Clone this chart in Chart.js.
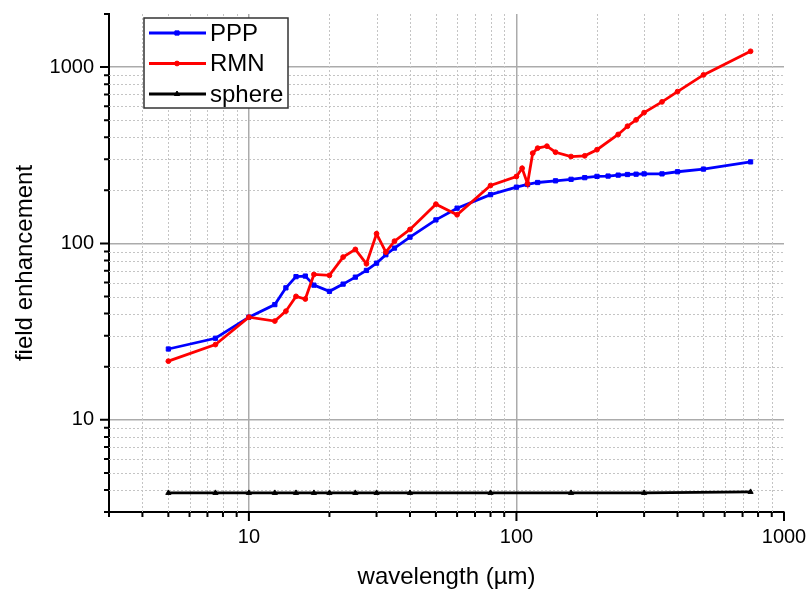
<!DOCTYPE html>
<html>
<head>
<meta charset="utf-8">
<script src="https://cdn.jsdelivr.net/npm/chart.js@4.4.1/dist/chart.umd.min.js"></script>
<style>
html, body { margin: 0; padding: 0; background: #fff; }
#wrap { position: relative; width: 811px; height: 592px; }
</style>
</head>
<body>
<div id="wrap"><canvas id="chLine"></canvas></div>
<script>
"use strict";

// wavelength (µm) and field enhancement
const pppX = [5, 7.5, 10, 12.5, 13.75, 15, 16.25, 17.5, 20, 22.5, 25, 27.5, 30, 32.5, 35, 40, 50, 60, 80, 100,
              110, 120, 140, 160, 180, 200, 220, 240, 260, 280, 300, 350, 400, 500, 750];
const pppY = [25.2, 29, 38.2, 45, 56, 64.8, 65.3, 58, 53.5, 58.8, 64.4, 70.3, 77.3, 86.3, 94.1, 108.6, 136, 158.5, 189, 208.5,
              216, 221.6, 226.5, 231, 236, 240, 241, 244, 246, 247, 248, 248, 255, 264, 290];

const rmnX = [5, 7.5, 10, 12.5, 13.75, 15, 16.25, 17.5, 20, 22.5, 25, 27.5, 30, 32.5, 35, 40, 50, 60, 80, 100,
              105, 110, 115, 120, 130, 140, 160, 180, 200, 240, 260, 280, 300, 350, 400, 500, 750];
const rmnY = [21.5, 26.7, 38.2, 36.3, 41.3, 50.1, 48.4, 66.7, 65.9, 83.7, 92.5, 76.7, 113.5, 89.3, 103, 120, 167, 145.4, 213, 239.7,
              267, 218, 325, 347, 356, 329, 311, 314, 340, 415, 462, 502, 552, 635, 726, 903, 1229];

const sphereX = [5, 7.5, 10, 12.5, 15, 17.5, 20, 25, 30, 40, 80, 160, 300, 750];
const sphereY = [3.85, 3.85, 3.85, 3.85, 3.85, 3.85, 3.85, 3.85, 3.85, 3.85, 3.85, 3.85, 3.85, 3.9];

// axis ticks
const xTicks = [3, 4, 5, 6, 7, 8, 9, 10, 20, 30, 40, 50, 60, 70, 80, 90, 100, 200, 300, 400, 500, 600, 700, 800, 900, 1000];
const yTicks = [3, 4, 5, 6, 7, 8, 9, 10, 20, 30, 40, 50, 60, 70, 80, 90, 100, 200, 300, 400, 500, 600, 700, 800, 900, 1000, 2000];
const xMajor = [10, 100, 1000];
const yMajor = [10, 100, 1000];
const xLabels = ['10', '100', '1000'];
const yLabels = ['10', '100', '1000'];

const FONT = "'Liberation Sans', Arial, sans-serif";

function toPoints(xs, ys) {
	return xs.map((x, i) => ({x: x, y: ys[i]}));
}

function labelFor(majors, labels) {
	return function(value) {
		const i = majors.indexOf(value);
		return i >= 0 ? labels[i] : '';
	};
}

// dotted minor grid lines
const minorGrid = {
	id: 'minorGrid',
	beforeDatasetsDraw(chart) {
		const ctx = chart.ctx, a = chart.chartArea;
		const sx = chart.scales.x, sy = chart.scales.y;
		ctx.save();
		ctx.strokeStyle = '#c4c4c4';
		ctx.lineWidth = 1;
		ctx.setLineDash([2, 2]);
		ctx.beginPath();
		xTicks.forEach(v => {
			if (xMajor.includes(v) || v === xTicks[0]) return;
			const px = Math.round(sx.getPixelForValue(v)) + 0.5;
			ctx.moveTo(px, a.top);
			ctx.lineTo(px, a.bottom);
		});
		yTicks.forEach(v => {
			if (yMajor.includes(v) || v === yTicks[0] || v === yTicks[yTicks.length - 1]) return;
			const py = Math.round(sy.getPixelForValue(v)) + 0.5;
			ctx.moveTo(a.left, py);
			ctx.lineTo(a.right, py);
		});
		ctx.stroke();
		ctx.restore();
	}
};

// outward tick marks, long for decades
const tickMarks = {
	id: 'tickMarks',
	afterDraw(chart) {
		const ctx = chart.ctx, a = chart.chartArea;
		const sx = chart.scales.x, sy = chart.scales.y;
		ctx.save();
		ctx.strokeStyle = '#000';
		ctx.lineWidth = 2;
		ctx.beginPath();
		xTicks.forEach(v => {
			const px = sx.getPixelForValue(v);
			const len = xMajor.includes(v) ? 9 : 5;
			ctx.moveTo(px, a.bottom);
			ctx.lineTo(px, a.bottom + len);
		});
		yTicks.forEach(v => {
			const py = sy.getPixelForValue(v);
			const len = yMajor.includes(v) ? 9 : 5;
			ctx.moveTo(a.left, py);
			ctx.lineTo(a.left - len, py);
		});
		ctx.stroke();
		ctx.restore();
	}
};

// boxed legend inside the plot
const boxLegend = {
	id: 'boxLegend',
	afterDraw(chart) {
		const ctx = chart.ctx;
		const bx = 144, by = 18, bw = 144, bh = 90;
		ctx.save();
		ctx.fillStyle = '#fff';
		ctx.fillRect(bx, by, bw, bh);
		ctx.strokeStyle = '#333';
		ctx.lineWidth = 1.5;
		ctx.strokeRect(bx, by, bw, bh);
		chart.data.datasets.forEach((ds, i) => {
			const y = by + 15 + i * 30.5;
			ctx.strokeStyle = ds.borderColor;
			ctx.lineWidth = ds.borderWidth;
			ctx.beginPath();
			ctx.moveTo(bx + 5, y);
			ctx.lineTo(bx + 62, y);
			ctx.stroke();
			ctx.fillStyle = ds.borderColor;
			ctx.lineWidth = 1;
			Chart.helpers.drawPoint(ctx, {pointStyle: ds.pointStyle, radius: ds.pointRadius, borderWidth: 1, rotation: 0}, bx + 33, y);
			ctx.fillStyle = '#000';
			ctx.font = '24px ' + FONT;
			ctx.textBaseline = 'middle';
			ctx.textAlign = 'left';
			ctx.fillText(ds.label, bx + 66, y + 1);
		});
		ctx.restore();
	}
};

function drawChart() {
	const chData = {
		datasets: [
			{
				label: 'PPP',
				data: toPoints(pppX, pppY),
				borderColor: '#0000ff',
				backgroundColor: '#0000ff',
				borderWidth: 2.8,
				pointStyle: 'rect',
				pointRadius: 3,
				pointBorderWidth: 1,
				order: 1
			},
			{
				label: 'RMN',
				data: toPoints(rmnX, rmnY),
				borderColor: '#ff0000',
				backgroundColor: '#ff0000',
				borderWidth: 2.8,
				pointStyle: 'circle',
				pointRadius: 2.4,
				pointBorderWidth: 1,
				order: 0
			},
			{
				label: 'sphere',
				data: toPoints(sphereX, sphereY),
				borderColor: '#000000',
				backgroundColor: '#000000',
				borderWidth: 2.8,
				pointStyle: 'triangle',
				pointRadius: 3,
				pointBorderWidth: 1,
				order: 2
			}
		]
	};

	const chOptions = {
		responsive: true,
		maintainAspectRatio: false,
		animation: false,
		layout: {padding: {left: 0, top: 14, right: 27, bottom: 0}},
		plugins: {legend: {display: false}, tooltip: {enabled: false}},
		elements: {line: {tension: 0}},
		scales: {
			x: {
				type: 'logarithmic',
				min: 3,
				max: 1000,
				afterBuildTicks: s => { s.ticks = xTicks.map(v => ({value: v})); },
				afterFit: s => { s.height = 80; s.paddingLeft = 0; s.paddingRight = 0; },
				grid: {
					drawTicks: false,
					lineWidth: 1.5,
					color: c => (c.tick && xMajor.includes(c.tick.value) && c.tick.value !== 1000) ? '#ababab' : 'rgba(0,0,0,0)'
				},
				border: {display: true, color: '#000', width: 2},
				ticks: {
					autoSkip: false, maxRotation: 0, padding: 13, color: '#000',
					font: {family: FONT, size: 20},
					callback: labelFor(xMajor, xLabels)
				},
				title: {
					display: true, text: 'wavelength (µm)', color: '#000',
					font: {family: FONT, size: 24}, padding: {top: 0, bottom: 0}
				}
			},
			y: {
				type: 'logarithmic',
				min: 3,
				max: 2000,
				afterBuildTicks: s => { s.ticks = yTicks.map(v => ({value: v})); },
				afterFit: s => { s.width = 109; s.paddingTop = 0; s.paddingBottom = 0; },
				grid: {
					drawTicks: false,
					lineWidth: 1.5,
					color: c => (c.tick && yMajor.includes(c.tick.value)) ? '#ababab' : 'rgba(0,0,0,0)'
				},
				border: {display: true, color: '#000', width: 2},
				ticks: {
					autoSkip: false, padding: 15, color: '#000',
					font: {family: FONT, size: 20},
					callback: labelFor(yMajor, yLabels)
				},
				title: {
					display: true, text: 'field enhancement', color: '#000',
					font: {family: FONT, size: 24}, padding: {top: 11, bottom: 0}
				}
			}
		}
	};

	new Chart(document.getElementById('chLine'), {
		type: 'line',
		data: chData,
		options: chOptions,
		plugins: [minorGrid, tickMarks, boxLegend]
	});
}

window.onload = drawChart;
</script>
</body>
</html>
